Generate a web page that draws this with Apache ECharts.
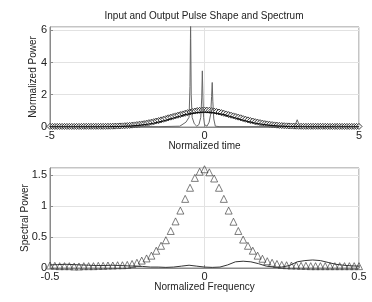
<!DOCTYPE html>
<html>
<head>
<meta charset="utf-8">
<script src="https://cdn.jsdelivr.net/npm/echarts@6/dist/echarts.min.js"></script>
<style>
  html, body { margin: 0; padding: 0; background: #fff; }
  #chart { width: 372px; height: 302px; }
</style>
</head>
<body>
<div id="chart"></div>
<script>
// top panel: input pulse (diamonds) sampled every 10/128 from -5 to 5
const inputStep = 0.078125
const inputPower = [
  0.035, 0.035, 0.035, 0.035, 0.035, 0.035, 0.035, 0.035, 0.035, 0.035,
  0.035, 0.035, 0.035, 0.035, 0.04, 0.04, 0.04, 0.04, 0.04, 0.04,
  0.04, 0.04, 0.04, 0.04, 0.045, 0.045, 0.05, 0.055, 0.06, 0.065,
  0.07, 0.08, 0.09, 0.10, 0.115, 0.13, 0.15, 0.17, 0.19, 0.21,
  0.24, 0.27, 0.30, 0.33, 0.37, 0.40, 0.44, 0.48, 0.52, 0.57,
  0.61, 0.65, 0.69, 0.73, 0.77, 0.81, 0.85, 0.89, 0.93, 0.96,
  0.99, 1.02, 1.035, 1.045, 1.05,
  1.045, 1.035, 1.02, 0.99, 0.96, 0.93, 0.89, 0.85, 0.81, 0.77,
  0.73, 0.69, 0.65, 0.61, 0.57, 0.52, 0.48, 0.44, 0.40, 0.37,
  0.33, 0.30, 0.27, 0.24, 0.21, 0.19, 0.17, 0.15, 0.13, 0.115,
  0.10, 0.09, 0.08, 0.07, 0.065, 0.06, 0.055, 0.05, 0.045, 0.045,
  0.04, 0.04, 0.04, 0.04, 0.04, 0.04, 0.04, 0.04, 0.04, 0.04,
  0.035, 0.035, 0.035, 0.035, 0.035, 0.035, 0.035, 0.035, 0.035, 0.035,
  0.035, 0.035, 0.035, 0.035
]

// top panel: smooth black pulse
const smoothTime = [
  -5, -4.75, -4.5, -4.25, -4, -3.75, -3.5, -3.25, -3, -2.75, -2.5, -2.25, -2, -1.75, -1.5, -1.25, -1, -0.75, -0.5, -0.25,
  0, 0.25, 0.5, 0.75, 1, 1.25, 1.5, 1.75, 2, 2.25, 2.5, 2.75, 3, 3.25, 3.5, 3.75, 4, 4.25, 4.5, 4.75, 5
]
const smoothPower = [
  0.01, 0.01, 0.01, 0.01, 0.01, 0.01, 0.012, 0.015, 0.02, 0.03, 0.05, 0.08, 0.13, 0.2, 0.3, 0.42, 0.56, 0.7, 0.81, 0.89,
  0.92, 0.89, 0.81, 0.7, 0.56, 0.42, 0.3, 0.2, 0.13, 0.08, 0.05, 0.03, 0.02, 0.015, 0.012, 0.01, 0.01, 0.01, 0.01, 0.01, 0.01
]

// top panel: gray output pulse with spikes
const outTime = [
  -5, -1.5, -0.8, -0.6, -0.5, -0.47, -0.455, -0.45, -0.445, -0.43, -0.4, -0.33, -0.25, -0.18, -0.12, -0.09, -0.07, -0.05, -0.03,
  0, 0.08, 0.15, 0.2, 0.23, 0.25, 0.27, 0.3, 0.35, 0.5, 2.9, 2.97, 3, 3.03, 3.1, 4.2, 4.3, 4.4, 5
]
const outPower = [
  0.02, 0.02, 0.05, 0.3, 0.6, 2.5, 5.5, 6.4, 5.5, 2.0, 0.6, 0.2, 0.05, 0.15, 0.6, 1.8, 3.48, 1.8, 0.6,
  0.15, 0.05, 0.3, 0.8, 1.9, 2.76, 1.6, 0.5, 0.05, 0.02, 0.02, 0.3, 0.45, 0.3, 0.02, 0.02, 0.22, 0.02, 0.02
]

// bottom panel: input spectrum (triangles) every 1/64 from -0.5 to 0.5
const specStep = 1 / 64
const inputSpec = [
  0.04, 0.035, 0.03, 0.03, 0.03, 0.025, 0.025, 0.03, 0.03, 0.03, 0.035, 0.035, 0.04, 0.04, 0.045, 0.045,
  0.05, 0.065, 0.085, 0.12, 0.155, 0.2, 0.28, 0.36, 0.45, 0.6, 0.755, 0.93, 1.12, 1.30, 1.46, 1.56,
  1.60,
  1.55, 1.45, 1.30, 1.12, 0.93, 0.75, 0.6, 0.46, 0.36, 0.28, 0.2, 0.15, 0.11, 0.085, 0.065, 0.05,
  0.045, 0.04, 0.04, 0.035, 0.035, 0.03, 0.03, 0.03, 0.03, 0.03, 0.03, 0.03, 0.03, 0.03, 0.03, 0.03
]

// bottom panel: output spectrum line
const outFreq = [
  -0.5, -0.475, -0.45, -0.425, -0.4, -0.375, -0.35, -0.325, -0.3, -0.275, -0.25, -0.225, -0.2, -0.175, -0.15, -0.125, -0.1, -0.075, -0.05, -0.025,
  0, 0.025, 0.05, 0.075, 0.1, 0.125, 0.15, 0.175, 0.2, 0.225, 0.25, 0.275, 0.3, 0.325, 0.35, 0.375, 0.4, 0.425, 0.45, 0.475, 0.5
]
const outSpec = [
  0.05, 0.055, 0.06, 0.055, 0.05, 0.045, 0.04, 0.04, 0.045, 0.04, 0.035, 0.03, 0.025, 0.015, 0.015, 0.01, 0.015, 0.03, 0.045, 0.03,
  0.015, 0.01, 0.015, 0.05, 0.1, 0.11, 0.1, 0.07, 0.03, 0.015, 0.015, 0.04, 0.1, 0.12, 0.13, 0.12, 0.09, 0.06, 0.045, 0.035, 0.03
]

const font = 'Liberation Sans'
const txt = '#222'
const frame = '#8a8a8a'

function pairs(xs, ys) { return ys.map((y, i) => [xs[i], y]) }

const inputData = inputPower.map((y, i) => [-5 + i * inputStep, y])
const specData = inputSpec.map((y, i) => [-0.5 + i * specStep, y])

function xAxis(idx, min, max, interval, name) {
  return {
    type: 'value', gridIndex: idx, min: min, max: max, interval: interval,
    name: name, nameLocation: 'middle', nameGap: 14, nameMoveOverlap: false,
    nameTextStyle: { fontFamily: font, fontSize: 10, color: txt },
    axisLine: { onZero: false, lineStyle: { color: frame } },
    axisTick: { inside: true, length: 3, lineStyle: { color: frame } },
    axisLabel: { fontFamily: font, fontSize: 11, color: txt, margin: 3 },
    splitLine: { show: true, lineStyle: { color: '#e2e2e2', width: 1 } }
  }
}
function yAxis(idx, max, interval, name, gap) {
  return {
    type: 'value', gridIndex: idx, min: 0, max: max, interval: interval,
    name: name, nameLocation: 'middle', nameGap: gap, nameMoveOverlap: false,
    nameTextStyle: { fontFamily: font, fontSize: 10, color: txt },
    axisLine: { onZero: false, lineStyle: { color: frame } },
    axisTick: { inside: true, length: 3, lineStyle: { color: frame } },
    axisLabel: { fontFamily: font, fontSize: 11, color: txt, margin: 3, showMaxLabel: false },
    splitLine: { show: true, lineStyle: { color: '#e2e2e2', width: 1 } }
  }
}

let myChart = echarts.init(document.getElementById('chart'))
myChart.setOption({
  animation: false,
  backgroundColor: '#fff',
  graphic: [{
    type: 'text', x: 204, y: 16,
    style: { text: 'Input and Output Pulse Shape and Spectrum', fontFamily: font, fontSize: 10, fill: txt, align: 'center', verticalAlign: 'middle' }
  }],
  grid: [
    { left: 50, right: 13, top: 27, height: 100, show: true, borderColor: frame, borderWidth: 1 },
    { left: 50, right: 13, top: 168, height: 100, show: true, borderColor: frame, borderWidth: 1 }
  ],
  xAxis: [
    xAxis(0, -5, 5, 5, 'Normalized time'),
    xAxis(1, -0.5, 0.5, 0.5, 'Normalized Frequency')
  ],
  yAxis: [
    yAxis(0, 6.2, 2, 'Normalized Power', 12),
    yAxis(1, 1.62, 0.5, 'Spectral Power', 20)
  ],
  series: [
    {
      type: 'line', xAxisIndex: 0, yAxisIndex: 0, data: pairs(outTime, outPower),
      showSymbol: false, lineStyle: { color: '#666', width: 1 }, clip: true
    },
    {
      type: 'line', xAxisIndex: 0, yAxisIndex: 0, data: pairs(smoothTime, smoothPower),
      showSymbol: false, smooth: true, lineStyle: { color: '#111', width: 1.2 }
    },
    {
      type: 'scatter', xAxisIndex: 0, yAxisIndex: 0, data: inputData,
      symbol: 'diamond', symbolSize: 6,
      itemStyle: { color: '#fff', borderColor: '#111', borderWidth: 1 }
    },
    {
      type: 'line', xAxisIndex: 1, yAxisIndex: 1, data: pairs(outFreq, outSpec),
      showSymbol: false, lineStyle: { color: '#333', width: 1 }
    },
    {
      type: 'scatter', xAxisIndex: 1, yAxisIndex: 1, data: specData,
      symbol: 'triangle', symbolSize: 7,
      itemStyle: { color: 'rgba(255,255,255,0)', borderColor: '#333', borderWidth: 0.8 }
    }
  ]
})
</script>
</body>
</html>
